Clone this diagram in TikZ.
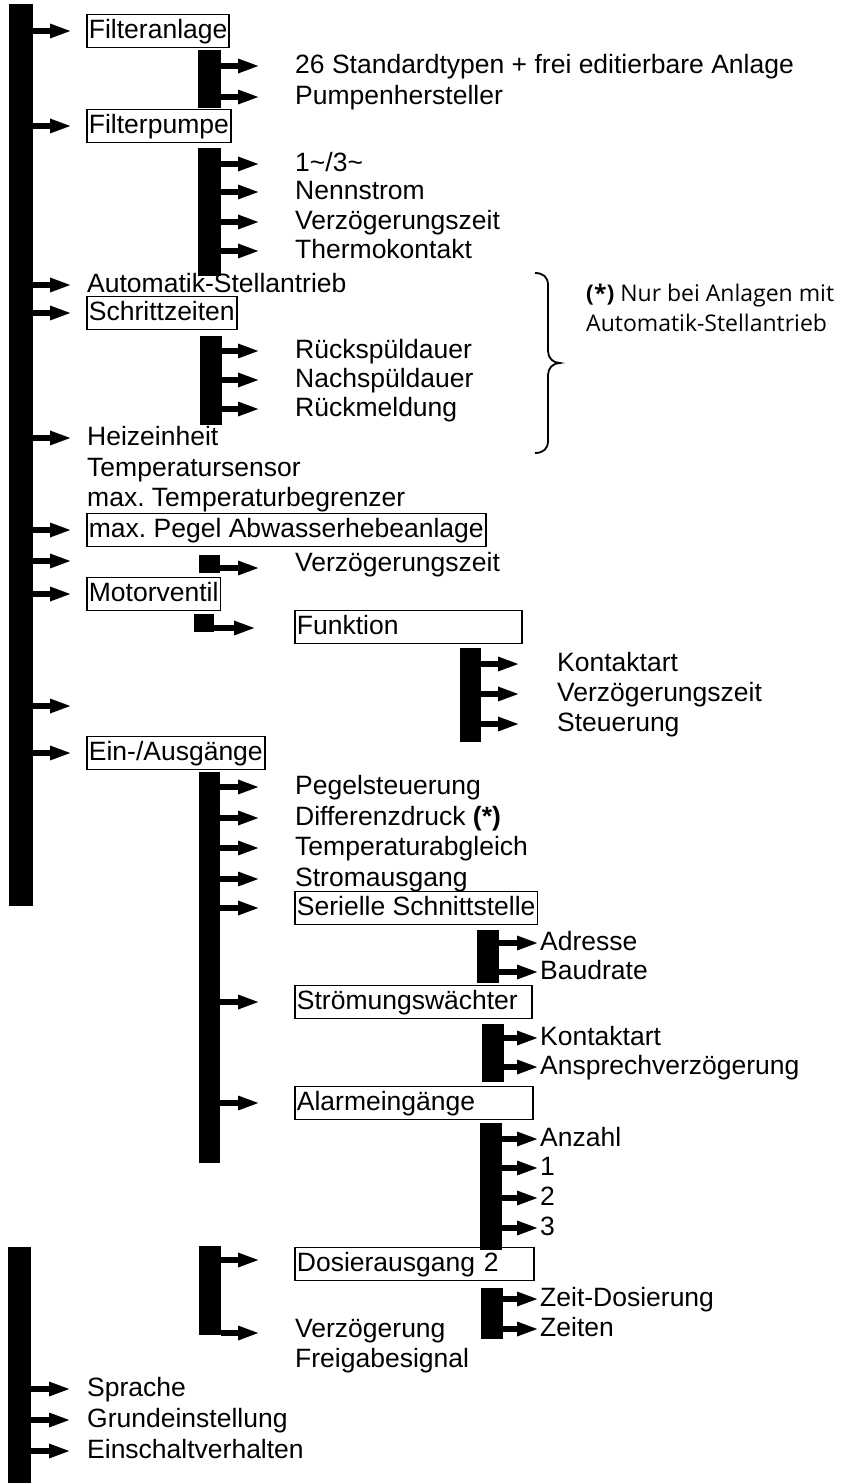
\documentclass[tikz,border=0pt]{standalone}
\usepackage{fontspec}
\setmainfont{Liberation Sans}
\newfontfamily\notefont{Open Sans}
\usetikzlibrary{arrows.meta,fit}
\frenchspacing
\begin{document}
\begin{tikzpicture}[x=1pt,y=-1pt,
  bar/.style={fill=black, draw=none, inner sep=0pt, outer sep=0pt},
  arr/.style={line width=5.5pt, -{Triangle[length=22pt,width=13pt]}},
  item/.style={anchor=west, inner xsep=2pt, inner ysep=3.5pt, text height=20pt, text depth=6pt, font=\fontsize{26.5}{30}\selectfont},
  boxed/.style={item, draw=black, line width=1.8pt},
  wbox/.style={boxed, text width=#1, align=left},
  notetext/.style={anchor=west, align=left, inner sep=0pt, font=\notefont\fontsize{23}{30}\selectfont},
]
\useasboundingbox (0,0) rectangle (846,1483);

% tip columns
\coordinate (tA) at (72,0);
\coordinate (tA2) at (71,0);
\coordinate (tB) at (260,0);
\coordinate (tBb) at (256,0);
\coordinate (tC) at (520,0);
\coordinate (tD) at (539,0);

% level 1 texts
\node[boxed] (n1) at (86,31) {Filteranlage};
\node[boxed] (n2) at (86,126) {Filterpumpe};
\node[item] (n3) at (85,285) {Automatik-Stellantrieb};
\node[boxed] (n4) at (86,313) {Schrittzeiten};
\node[item] (n5) at (85,438) {Heizeinheit};
\node[item] (n5a) at (85,469) {Temperatursensor};
\node[item] (n5b) at (85,499) {max. Temperaturbegrenzer};
\node[boxed] (n6) at (86,530) {max. Pegel Abwasserhebeanlage};
\node[boxed] (n7) at (86,594) {Motorventil};
\node[boxed] (n8) at (86,753) {Ein-/Ausgänge};
\node[item] (n9) at (85,1389) {Sprache};
\node[item] (n10) at (85,1420) {Grundeinstellung};
\node[item] (n11) at (85,1451) {Einschaltverhalten};

% level 2 texts
\node[item] (a1) at (293,66) {26 Standardtypen + frei editierbare Anlage};
\node[item] (a2) at (293,97) {Pumpenhersteller};
\node[item] (b1) at (293,164) {1\textasciitilde/3\textasciitilde};
\node[item] (b2) at (293,192) {Nennstrom};
\node[item] (b3) at (293,222) {Verzögerungszeit};
\node[item] (b4) at (293,251) {Thermokontakt};
\node[item] (c1) at (293,351) {Rückspüldauer};
\node[item] (c2) at (293,380) {Nachspüldauer};
\node[item] (c3) at (293,409) {Rückmeldung};
\node[item] (d1) at (293,564) {Verzögerungszeit};
\node[wbox=223pt] (f1) at (294,627) {Funktion};
\node[item] (e1) at (293,787) {Pegelsteuerung};
\node[item] (e2) at (293,818) {Differenzdruck \textbf{(*)}};
\node[item] (e3) at (293,848) {Temperaturabgleich};
\node[item] (e4) at (293,879) {Stromausgang};
\node[boxed] (e5) at (294,908) {Serielle Schnittstelle};
\node[wbox=233pt] (e6) at (294,1002) {Strömungswächter};
\node[wbox=234pt] (e7) at (294,1103) {Alarmeingänge};
\node[wbox=235pt] (g1) at (294,1264) {Dosierausgang 2};
\node[item] (g2) at (293,1330) {Verzögerung};
\node[item] (g3) at (293,1360) {Freigabesignal};

% level 3 texts
\node[item] (k1) at (555,664) {Kontaktart};
\node[item] (k2) at (555,694) {Verzögerungszeit};
\node[item] (k3) at (555,724) {Steuerung};
\node[item] (s1) at (538,943) {Adresse};
\node[item] (s2) at (538,972) {Baudrate};
\node[item] (w1) at (538,1038) {Kontaktart};
\node[item] (w2) at (538,1067) {Ansprechverzögerung};
\node[item] (m1) at (538,1139) {Anzahl};
\node[item] (m2) at (538,1168) {1};
\node[item] (m3) at (538,1198) {2};
\node[item] (m4) at (538,1228) {3};
\node[item] (z1) at (538,1299) {Zeit-Dosierung};
\node[item] (z2) at (538,1329) {Zeiten};

% bars
\node[bar, fit={(9,4) (33,906)}] (B1) {};
\node[bar, fit={(8,1247) (31,1483)}] (B2) {};
\node[bar, fit={(198,50) (221,108)}] (S1) {};
\node[bar, fit={(198,148) (221,276)}] (S2) {};
\node[bar, fit={(200,336) (222,425)}] (S3) {};
\node[bar, fit={(199,555) (220,573)}] (SA) {};
\node[bar, fit={(194,614) (214,632)}] (SB) {};
\node[bar, fit={(460,648) (481,742)}] (S4) {};
\node[bar, fit={(199,772) (220,1163)}] (SE) {};
\node[bar, fit={(477,930) (499,983)}] (S5) {};
\node[bar, fit={(482,1024) (504,1082)}] (S6) {};
\node[bar, fit={(480,1123) (502,1250)}] (S7) {};
\node[bar, fit={(199,1246) (221,1335)}] (S8) {};
\node[bar, fit={(481,1288) (503,1339)}] (S9) {};

% free arrow heights
\coordinate (y1) at (0,561);
\coordinate (y2) at (0,706);
\coordinate (ya) at (0,568);
\coordinate (yb) at (0,628);
\coordinate (yg) at (0,1260);
\coordinate (yh) at (0,1333);

% main bar arrows
\foreach \n in {n1,n2,n3,n4,n5,n6,y1,n7,y2,n8}
  \draw[arr] (B1.east |- \n) -- (tA |- \n);
\foreach \n in {n9,n10,n11}
  \draw[arr] (B2.east |- \n) -- (tA2 |- \n);

% sub arrows
\foreach \n in {a1,a2} \draw[arr] (S1.east |- \n) -- (tB |- \n);
\foreach \n in {b1,b2,b3,b4} \draw[arr] (S2.east |- \n) -- (tB |- \n);
\foreach \n in {c1,c2,c3} \draw[arr] (S3.east |- \n) -- (tB |- \n);
\draw[arr] (SA.east |- ya) -- (tB |- ya);
\draw[arr] (SB.east |- yb) -- (tBb |- yb);
\foreach \n in {k1,k2,k3} \draw[arr] (S4.east |- \n) -- (tC |- \n);
\foreach \n in {e1,e2,e3,e4,e5,e6,e7} \draw[arr] (SE.east |- \n) -- (tB |- \n);
\foreach \n in {s1,s2} \draw[arr] (S5.east |- \n) -- (tD |- \n);
\foreach \n in {w1,w2} \draw[arr] (S6.east |- \n) -- (tD |- \n);
\foreach \n in {m1,m2,m3,m4} \draw[arr] (S7.east |- \n) -- (tD |- \n);
\draw[arr] (S8.east |- yg) -- (tB |- yg);
\draw[arr] (S8.east |- yh) -- (tB |- yh);
\foreach \n in {z1,z2} \draw[arr] (S9.east |- \n) -- (tD |- \n);

% brace and note
\draw[line width=1.8pt] (535,273) .. controls (543,273) and (548,277) .. (548,285)
  -- (548,351) .. controls (548,358) and (553,363) .. (560,363)
  .. controls (553,363) and (548,368) .. (548,375)
  -- (548,441) .. controls (548,449) and (543,453) .. (535,453);
\node[notetext] (note) at (586,308) {\textbf{(*)} Nur bei Anlagen mit\\Automatik-Stellantrieb};
\end{tikzpicture}
\end{document}
